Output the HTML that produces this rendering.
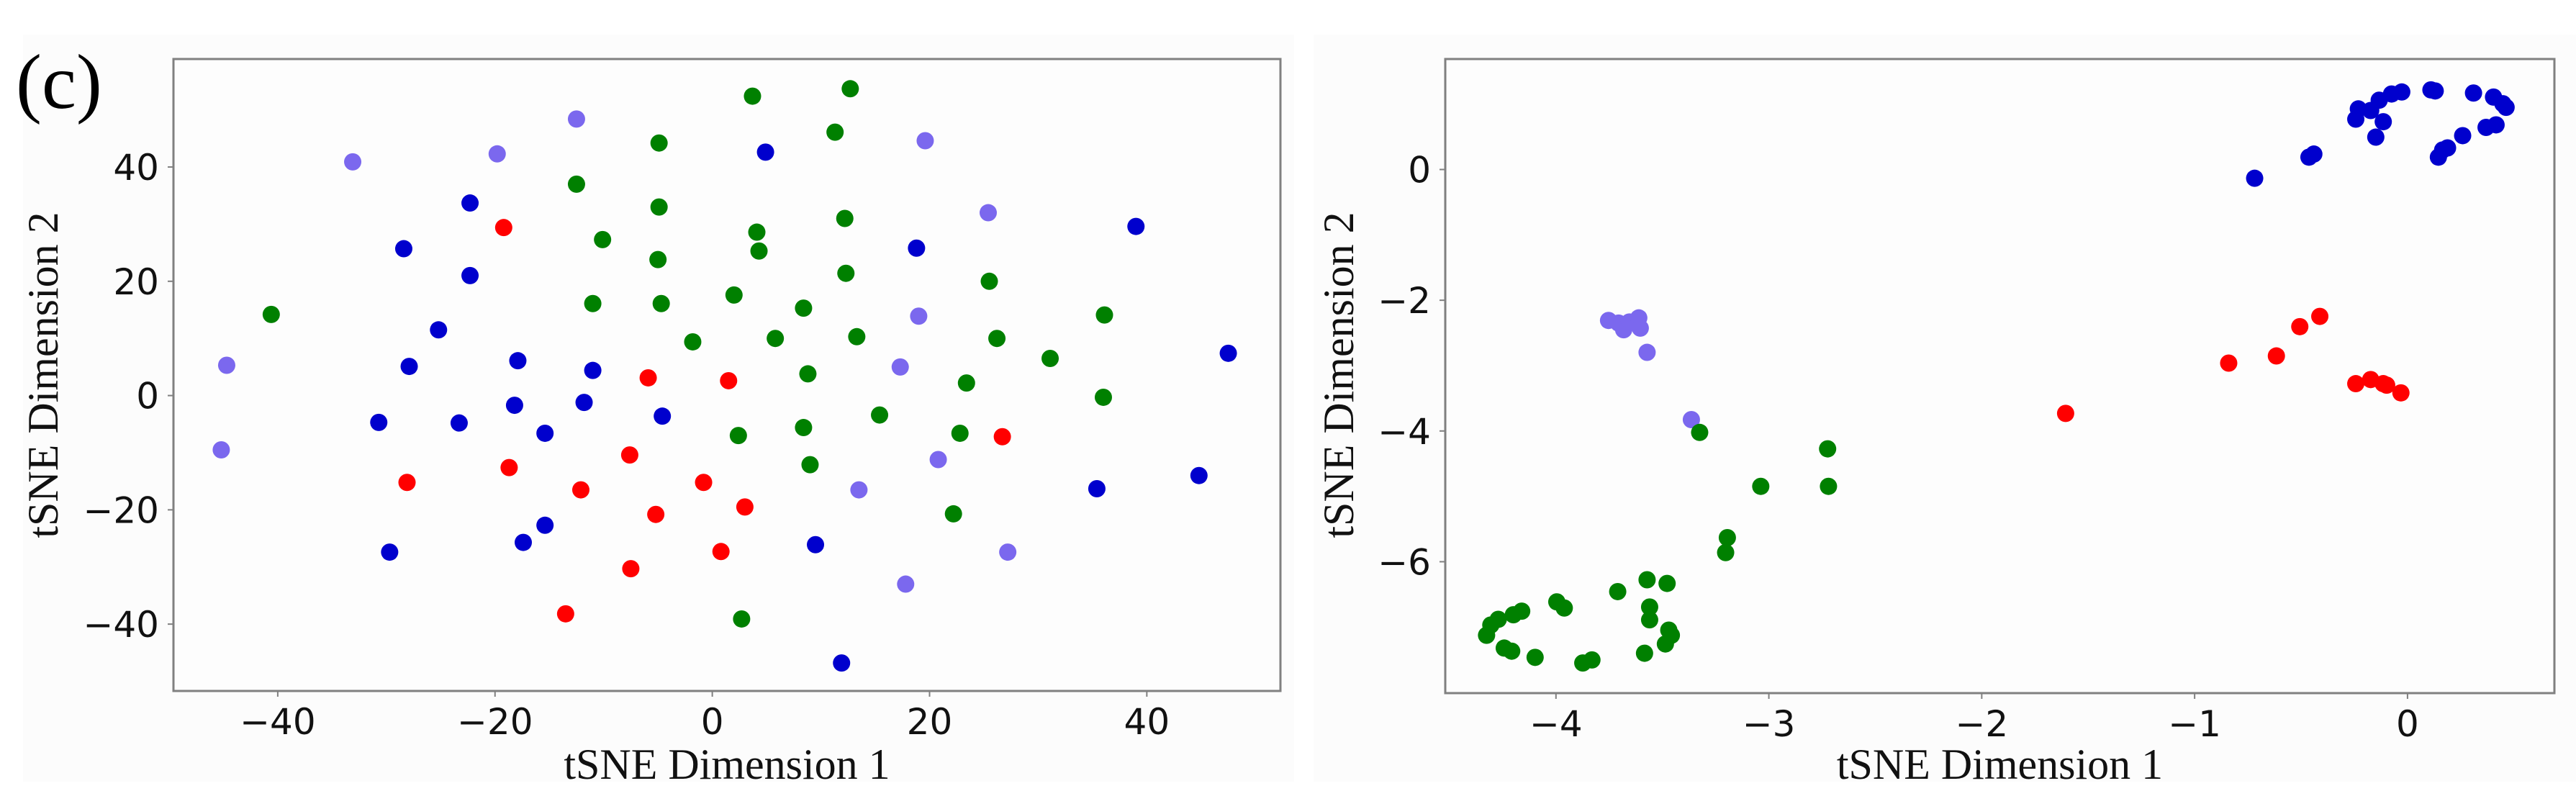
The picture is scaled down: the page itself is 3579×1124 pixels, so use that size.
<!DOCTYPE html>
<html><head><meta charset="utf-8"><style>
html,body{margin:0;padding:0;background:#fff;}
svg{display:block;}
</style></head><body>
<svg id="fig" width="3579" height="1124" viewBox="0 0 3579 1124" xmlns="http://www.w3.org/2000/svg">
<rect x="32" y="48" width="1766" height="1038" fill="#fcfcfc"/>
<rect x="1825" y="48" width="1754" height="1038" fill="#fcfcfc"/>
<text x="22" y="150" font-family="Liberation Serif, serif" font-size="108">(c)</text>
<g id="left"></g>
<g id="right"></g>
</svg>
<script>
// Left plot data
const leftPurpleX=[-12.5,-33.1,-19.8,19.6,25.4,19.0,17.3,-44.7,-45.2,20.8,13.5,27.2,17.8];
const leftPurpleY=[48.4,40.9,42.3,44.6,32.0,13.9,5.0,5.3,-9.5,-11.2,-16.5,-27.4,-33.0];
const leftBlueX=[4.9,-22.3,-28.4,18.8,39.0,-22.3,-25.2,-27.9,-17.9,-11.0,47.5,-18.2,-11.8,-30.7,-23.3,-4.6,-15.4,35.4,44.8,-15.4,-17.4,-29.7,9.5,11.9];
const leftBlueY=[42.6,33.7,25.7,25.8,29.6,21.0,11.5,5.1,6.1,4.4,7.4,-1.7,-1.2,-4.7,-4.8,-3.6,-6.6,-16.3,-14.0,-22.7,-25.7,-27.4,-26.1,-46.8];
const leftRedX=[-19.2,-5.9,1.5,26.7,-7.6,-18.7,-28.1,-12.1,-0.8,3.0,-5.2,0.8,-7.5,-13.5];
const leftRedY=[29.4,3.1,2.6,-7.2,-10.4,-12.6,-15.2,-16.5,-15.2,-19.5,-20.8,-27.3,-30.3,-38.2];
const leftGreenX=[3.7,12.7,11.3,-4.9,-12.5,-4.9,12.2,4.1,4.3,-10.1,-5.0,12.3,25.5,-40.6,-11.0,-4.7,2.0,8.4,36.1,-1.8,5.8,13.3,26.2,31.1,8.8,23.4,36.0,15.4,8.4,2.4,22.8,9.0,22.2,2.7];
const leftGreenY=[52.4,53.7,46.1,44.2,37.0,33.0,31.0,28.6,25.3,27.3,23.8,21.4,20.0,14.2,16.1,16.1,17.6,15.3,14.1,9.4,10.0,10.3,10.0,6.5,3.8,2.2,-0.3,-3.4,-5.6,-7.0,-6.6,-12.1,-20.7,-39.1];
const leftXTicks=[-40,-20,0,20,40];
const leftYTicks=[-40,-20,0,20,40];
// Right plot data
const rightBlueX=[-0.718,-0.463,-0.440,-0.243,-0.231,-0.173,-0.133,-0.114,-0.149,-0.075,-0.027,0.110,0.130,0.310,0.404,0.448,0.463,0.416,0.369,0.259,0.188,0.165,0.145];
const rightBlueY=[-0.134,0.189,0.236,0.770,0.927,0.903,1.060,0.731,0.495,1.155,1.186,1.218,1.202,1.170,1.108,1.006,0.951,0.683,0.644,0.518,0.330,0.299,0.189];
const rightPurpleX=[-3.753,-3.706,-3.682,-3.655,-3.611,-3.604,-3.572,-3.364];
const rightPurpleY=[-2.309,-2.349,-2.451,-2.333,-2.270,-2.427,-2.797,-3.826];
const rightRedX=[-1.606,-0.840,-0.616,-0.506,-0.412,-0.243,-0.173,-0.114,-0.098,-0.031];
const rightRedY=[-3.731,-2.962,-2.852,-2.404,-2.247,-3.276,-3.213,-3.276,-3.299,-3.417];
const rightGreenX=[-3.325,-2.724,-2.720,-3.038,-3.195,-3.203,-3.572,-3.478,-3.710,-3.560,-3.560,-3.470,-3.458,-3.486,-3.584,-3.996,-3.961,-4.161,-4.200,-4.271,-4.306,-4.326,-4.243,-4.208,-4.098,-3.874,-3.831];
const rightGreenY=[-4.022,-4.273,-4.847,-4.847,-5.632,-5.860,-6.276,-6.332,-6.457,-6.693,-6.889,-7.046,-7.125,-7.258,-7.400,-6.614,-6.708,-6.756,-6.811,-6.881,-6.968,-7.125,-7.321,-7.368,-7.463,-7.549,-7.502];
const rightXTicks=[-4,-3,-2,-1,0];
const rightYTicks=[-6,-4,-2,0];

const NS='http://www.w3.org/2000/svg';
function mk(tag,attrs,parent){const e=document.createElementNS(NS,tag);for(const k in attrs)e.setAttribute(k,attrs[k]);parent.appendChild(e);return e;}

function drawPlot(g,box,xlim,ylim,xt,yt,series,ylabX,prefix){
  const sx=v=>box.x0+(v-xlim[0])/(xlim[1]-xlim[0])*(box.x1-box.x0);
  const sy=v=>box.y1-(v-ylim[0])/(ylim[1]-ylim[0])*(box.y1-box.y0);
  const frame=mk('rect',{x:box.x0,y:box.y0,width:box.x1-box.x0,height:box.y1-box.y0,fill:'#fdfdfd',stroke:'#808080','stroke-width':3},g);
  
  
  xt.forEach(v=>{
    const t=mk('line',{x1:sx(v),x2:sx(v),y1:box.y1,y2:box.y1+8,stroke:'#808080','stroke-width':2},g);
    
    
    const l=mk('text',{x:sx(v),y:box.y1+60,'text-anchor':'middle','font-family':'DejaVu Sans, sans-serif','font-size':50,fill:'#111'},g);
    
    
    l.textContent=(v<0?'\u2212':'')+Math.abs(v);
  });
  yt.forEach(v=>{
    const t=mk('line',{x1:box.x0-8,x2:box.x0,y1:sy(v),y2:sy(v),stroke:'#808080','stroke-width':2},g);
    
    
    const l=mk('text',{x:box.x0-20,y:sy(v)+18,'text-anchor':'end','font-family':'DejaVu Sans, sans-serif','font-size':50,fill:'#111'},g);
    
    
    l.textContent=(v<0?'\u2212':'')+Math.abs(v);
  });
  const xl=mk('text',{x:(box.x0+box.x1)/2,y:1082,'text-anchor':'middle','font-family':'Liberation Serif, serif','font-size':60,fill:'#111'},g);
  
  
  xl.textContent='tSNE Dimension 1';
  const yl=mk('text',{x:0,y:0,'text-anchor':'middle','font-family':'Liberation Serif, serif','font-size':60,fill:'#111',transform:'translate('+ylabX+',521) rotate(-90)'},g);
  
  
  yl.textContent='tSNE Dimension 2';
  series.forEach(s=>{
    s.xs.forEach((xv,i)=>{
      const c=mk('circle',{cx:sx(xv),cy:sy(s.ys[i]),r:12,fill:s.color},g);
      
      
    });
  });
}

drawPlot(document.getElementById('left'),{x0:241,x1:1779,y0:82,y1:960},[-49.6,52.3],[-51.7,58.9],leftXTicks,leftYTicks,[
  {name:'purple',xs:leftPurpleX,ys:leftPurpleY,color:'#7b68ee'},
  {name:'blue',xs:leftBlueX,ys:leftBlueY,color:'#0000cd'},
  {name:'red',xs:leftRedX,ys:leftRedY,color:'#ff0000'},
  {name:'green',xs:leftGreenX,ys:leftGreenY,color:'#008000'}
],80,'left');

drawPlot(document.getElementById('right'),{x0:2008,x1:3549,y0:82,y1:963},[-4.52,0.69],[-8.01,1.69],rightXTicks,rightYTicks,[
  {name:'purple',xs:rightPurpleX,ys:rightPurpleY,color:'#7b68ee'},
  {name:'blue',xs:rightBlueX,ys:rightBlueY,color:'#0000cd'},
  {name:'red',xs:rightRedX,ys:rightRedY,color:'#ff0000'},
  {name:'green',xs:rightGreenX,ys:rightGreenY,color:'#008000'}
],1880,'right');
</script>
</body></html>
